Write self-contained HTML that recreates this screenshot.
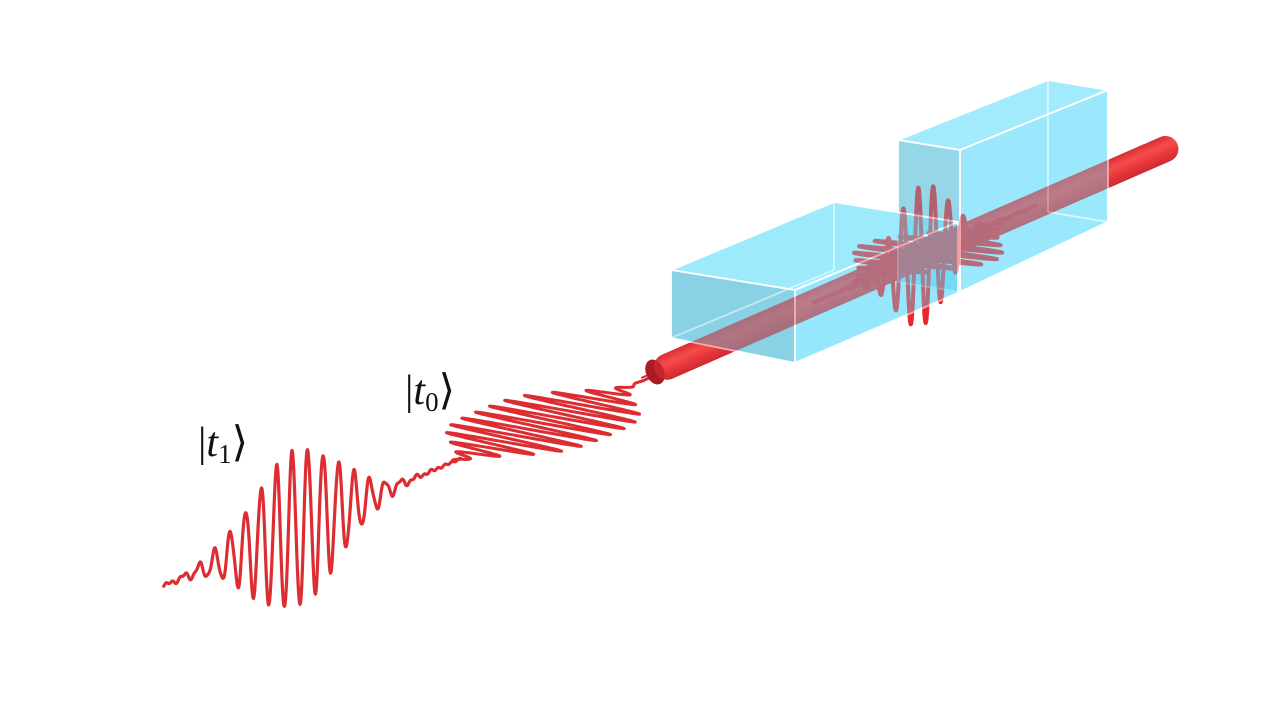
<!DOCTYPE html>
<html><head><meta charset="utf-8"><style>
html,body{margin:0;padding:0;background:#fff;width:1280px;height:720px;overflow:hidden}
svg{display:block}
.lbl{font-family:"Liberation Serif",serif;font-size:42px;fill:#111}
</style></head><body>
<svg id="s" width="1280" height="720" viewBox="0 0 1280 720" xmlns="http://www.w3.org/2000/svg">
<defs>
<linearGradient id="cyl" gradientUnits="userSpaceOnUse" x1="0" y1="-13" x2="0" y2="13">
<stop offset="0" stop-color="#d0262c"/><stop offset="0.35" stop-color="#ff5c5c"/><stop offset="0.6" stop-color="#f23e40"/><stop offset="1" stop-color="#bc1e26"/>
</linearGradient>
</defs>
<path id="w1" fill="none" stroke="#dc2e32" stroke-width="3.2" stroke-linejoin="round"/>
<path id="w2" fill="none" stroke="#dc2e32" stroke-width="3" stroke-linejoin="round"/>
<!-- cylinder -->
<g id="cylg" transform="translate(655,372) rotate(-23.6)">
<rect x="0" y="-13" width="570" height="26" rx="13" fill="url(#cyl)"/>
<line x1="-15" y1="0" x2="0" y2="0" stroke="#d02a2e" stroke-width="2"/>
<ellipse cx="0" cy="0" rx="9" ry="13" fill="#a81c22"/>
</g>
<path id="w3" fill="none" stroke="#e8282e" stroke-width="4" stroke-linejoin="round"/>
<path id="w4" fill="none" stroke="#e8282e" stroke-width="4" stroke-linejoin="round"/>
<!-- box 2 -->
<g stroke="#fff" stroke-width="1.8" stroke-linejoin="round">
<polygon points="898,140 1048,80 1108,90 960,150" fill="#6ee0fb" fill-opacity="0.65"/>
<polygon points="960,150 1108,90 1108,222 960,292" fill="#66dcfa" fill-opacity="0.65"/>
<polygon points="898,140 960,150 960,292 898,282" fill="#5cc0dc" fill-opacity="0.65"/>
<line x1="1048" y1="80" x2="1048" y2="212" stroke-opacity="0.6"/>
<line x1="1048" y1="212" x2="1108" y2="222" stroke-opacity="0.6"/>
</g>
<!-- box 1 -->
<g stroke="#fff" stroke-width="1.8" stroke-linejoin="round">
<polygon points="671,270 834,202 958,222 795,290" fill="#6ee0fb" fill-opacity="0.68"/>
<polygon points="671,270 795,290 795,363 671,338" fill="#5cc0dc" fill-opacity="0.72"/>
<polygon points="795,290 958,222 958,293 795,363" fill="#66dcfa" fill-opacity="0.68"/>
<line x1="834" y1="202" x2="834" y2="270" stroke-opacity="0.6"/>
<line x1="671" y1="338" x2="834" y2="270" stroke-opacity="0.5"/>
</g>
<!-- faint overlay of cylinder and waves through glass -->
<g opacity="0.42">
<g transform="translate(655,372) rotate(-23.6)">
<rect x="0" y="-13" width="570" height="26" rx="13" fill="#e8383c"/>
</g>
<path id="w3b" fill="none" stroke="#e8282e" stroke-width="4" stroke-linejoin="round"/>
<path id="w4b" fill="none" stroke="#e8282e" stroke-width="4" stroke-linejoin="round"/>
</g>
<text class="lbl" x="198" y="456"><tspan>|</tspan><tspan font-style="italic">t</tspan><tspan font-size="27" dy="7">1</tspan><tspan dy="-7">⟩</tspan></text>
<text class="lbl" x="405" y="404"><tspan>|</tspan><tspan font-style="italic">t</tspan><tspan font-size="27" dy="7">0</tspan><tspan dy="-7">⟩</tspan></text>
</svg>
<script>
function base(x){return 586-0.428*(x-163);}
function wave(id,x0,x1,c,sig,A,per,vx,vy,step,noise,pw){
 let d="";
 for(let x=x0;x<=x1;x+=step){
  let e=Math.exp(-Math.pow(Math.abs(x-c)/sig,pw||2));
  let a=A*e*Math.sin(2*Math.PI*(x-c)/per);
  if(noise) a+=noise*Math.sin(x*0.9)*Math.exp(-Math.pow((x-c)/(sig*2.2),2));
  let px=x+a*vx, py=base(x)+a*vy;
  d+=(d?"L":"M")+px.toFixed(1)+" "+py.toFixed(1);
 }
 document.getElementById(id).setAttribute("d",d);
}
wave("w1",163,462,296,62,78,15.5,0,1,0.5,3);
wave("w2",455,652,543,66,64,14,1,0.2,0.2,0,4);
function wave2(ids,c,sig,A,per,vx,vy){
 let d="";
 for(let x=c-110;x<=c+110;x+=0.3){
  let e=Math.exp(-Math.pow((x-c)/sig,2));
  let a=A*e*Math.sin(2*Math.PI*(x-c)/per);
  let by=372-0.437*(x-655);
  d+=(d?"L":"M")+(x+a*vx).toFixed(1)+" "+(by+a*vy).toFixed(1);
 }
 ids.forEach(i=>document.getElementById(i).setAttribute("d",d));
}
wave2(["w3","w3b"],922,38,70,15,0,1);
wave2(["w4","w4b"],928,45,66,13,1,0.12);
</script>
</body></html>
